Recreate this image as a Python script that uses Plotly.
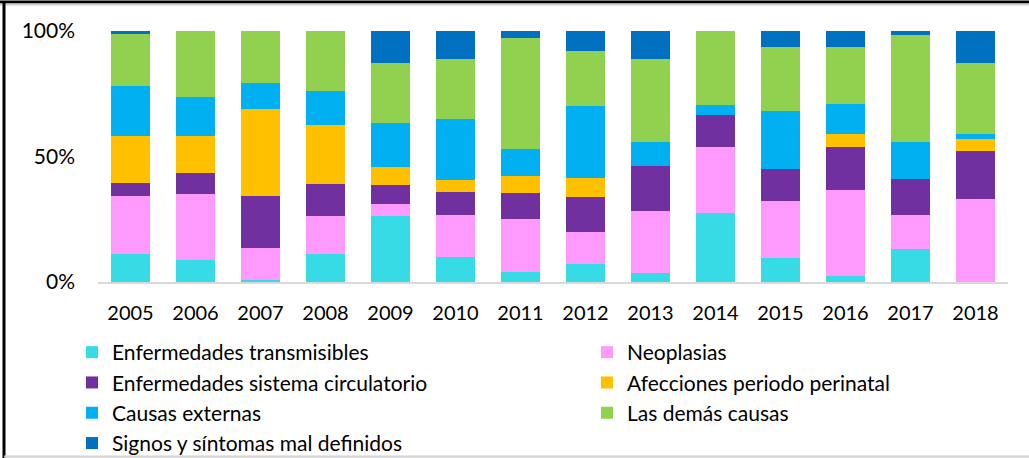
import plotly.graph_objects as go

years = [str(y) for y in range(2005, 2019)]

# shares per cause (% of total deaths)
transmisibles = [11.2, 8.8, 0.8, 11.2, 26.3, 10.0, 3.9, 7.0, 3.6, 27.4, 9.7, 2.3, 13.0, 0.0]
neoplasias = [23.0, 26.3, 12.7, 15.1, 4.9, 16.7, 21.2, 13.0, 24.6, 26.3, 22.6, 34.4, 13.5, 33.1]
circulatorio = [5.4, 8.5, 20.9, 12.6, 7.6, 9.3, 10.2, 13.7, 18.2, 12.7, 12.6, 16.9, 14.3, 19.0]
perinatal = [18.5, 14.6, 34.4, 23.5, 6.9, 4.8, 6.9, 7.6, 0.0, 0.0, 0.0, 5.3, 0.0, 4.8]
externas = [20.1, 15.7, 10.5, 13.5, 17.5, 24.0, 10.6, 29.0, 9.3, 4.1, 23.1, 12.2, 15.1, 2.3]
demas = [20.6, 26.2, 20.7, 24.0, 23.9, 24.0, 44.5, 21.9, 33.1, 29.5, 25.8, 22.7, 42.4, 28.0]
signos = [1.3, 0.0, 0.0, 0.0, 12.9, 11.2, 2.7, 7.8, 11.3, 0.0, 6.2, 6.2, 1.6, 12.9]

ytick_vals = [0, 50, 100]
ytick_text = ["0%", "50%", "100%"]

# name, values, colour, legend column
series = [
    ("Enfermedades transmisibles", transmisibles, "#36DBE6", "legend"),
    ("Neoplasias", neoplasias, "#FF99FF", "legend2"),
    ("Enfermedades sistema circulatorio", circulatorio, "#7030A0", "legend"),
    ("Afecciones periodo perinatal", perinatal, "#FFC000", "legend2"),
    ("Causas externas", externas, "#00B0F0", "legend"),
    ("Las demás causas", demas, "#92D050", "legend2"),
    ("Signos y síntomas mal definidos", signos, "#0070C0", "legend"),
]

fig = go.Figure()
for name, vals, color, leg in series:
    fig.add_bar(name=name, x=years, y=vals, marker_color=color,
                marker_line_width=0, legend=leg)

# plot area in pixels: x 98..1008, y 31..282
def px_x(p):
    return (p - 98) / 910

def px_y(p):
    return (282 - p) / 251

legend_common = dict(
    xanchor="left", yanchor="top", traceorder="normal",
    font=dict(size=21), itemclick=False, bgcolor="rgba(0,0,0,0)",
    tracegroupgap=0,
)

fig.update_layout(
    width=1029,
    height=458,
    barmode="stack",
    barnorm="percent",
    bargap=0.385,
    plot_bgcolor="white",
    paper_bgcolor="white",
    margin=dict(l=98, r=21, t=31, b=176, autoexpand=False),
    font=dict(family="Lato, Calibri, sans-serif", size=20, color="#000000"),
    xaxis=dict(
        showline=True, linecolor="#D9D9D9", linewidth=2,
        ticks="", showgrid=False, ticklabelstandoff=12,
    ),
    yaxis=dict(
        range=[0, 100], tickvals=ytick_vals, ticktext=ytick_text,
        tickfont=dict(size=21),
        showgrid=False, zeroline=False, ticks="", ticklabelstandoff=22,
    ),
    legend=dict(x=px_x(72), y=px_y(332), **legend_common),
    legend2=dict(x=px_x(587), y=px_y(332), **legend_common),
    shapes=[
        # frame of the cropped figure
        dict(type="line", xref="paper", yref="paper", x0=px_x(0), x1=px_x(1029),
             y0=px_y(2), y1=px_y(2), line=dict(color="#000000", width=3)),
        dict(type="line", xref="paper", yref="paper", x0=px_x(0), x1=px_x(1029),
             y0=px_y(4.5), y1=px_y(4.5), line=dict(color="#D0D0D0", width=2)),
        dict(type="line", xref="paper", yref="paper", x0=px_x(4), x1=px_x(4),
             y0=px_y(2), y1=px_y(458), line=dict(color="#000000", width=3)),
        dict(type="line", xref="paper", yref="paper", x0=px_x(4), x1=px_x(1029),
             y0=px_y(456.5), y1=px_y(456.5), line=dict(color="#D0D0D0", width=2)),
    ],
)

fig.write_html("out.html", config={"displayModeBar": False},
               post_script="document.body.style.margin='0';")
